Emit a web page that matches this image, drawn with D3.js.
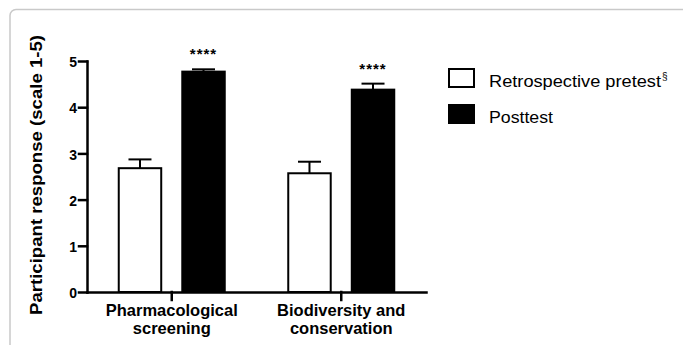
<!DOCTYPE html>
<html>
<head>
<meta charset="utf-8">
<script src="https://cdn.jsdelivr.net/npm/d3@7"></script>
<style>
  body { margin: 0; background: #fff; }
  svg { display: block; font-family: "Liberation Sans", Arial, sans-serif; }
</style>
</head>
<body>
<script>
const categories = ['Pharmacological screening', 'Biodiversity and conservation']
const categoryLines = [['Pharmacological', 'screening'], ['Biodiversity and', 'conservation']]
const series = ['Retrospective pretest', 'Posttest']
const pretest = [2.68, 2.57]
const pretestErr = [0.19, 0.25]
const posttest = [4.77, 4.38]
const posttestErr = [0.05, 0.13]
const stars = ['****', '****']
const yTicks = [0, 1, 2, 3, 4, 5]

const w = 683
const h = 345

const svg = d3.select('body')
  .append('svg')
  .attr('width', w)
  .attr('height', h)

// light frame round the figure
svg.append('rect')
  .attr('x', 10).attr('y', 9.5)
  .attr('width', 680).attr('height', 400)
  .attr('rx', 6)
  .attr('fill', 'none')
  .attr('stroke', '#c9c9c9')
  .attr('stroke-width', 1.5)

const x0 = d3.scaleBand()
  .domain(categories)
  .range([87, 426])

const x1 = d3.scaleBand()
  .domain(series)
  .range([-54, 54])
  .paddingInner(0.3)

const y = d3.scaleLinear()
  .domain([0, 5])
  .range([292, 61])

const fills = ['#fff', '#000']

const rows = categories.map((c, i) => ({
  cat: c,
  vals: [
    { s: series[0], v: pretest[i], e: pretestErr[i] },
    { s: series[1], v: posttest[i], e: posttestErr[i] }
  ],
  star: stars[i]
}))

const groups = svg.selectAll('g.grp')
  .data(rows)
  .enter()
  .append('g')
  .attr('class', 'grp')
  .attr('transform', d => `translate(${x0(d.cat) + x0.bandwidth() / 2}, 0)`)

// error bars (upper only)
groups.selectAll('g.err')
  .data(d => d.vals)
  .enter()
  .append('g')
  .attr('class', 'err')
  .each(function (d) {
    const cx = x1(d.s) + x1.bandwidth() / 2
    const g = d3.select(this)
    g.append('line')
      .attr('x1', cx).attr('x2', cx)
      .attr('y1', y(d.v)).attr('y2', y(d.v + d.e))
      .attr('stroke', '#000').attr('stroke-width', 2)
    g.append('line')
      .attr('x1', cx - 11.5).attr('x2', cx + 11.5)
      .attr('y1', y(d.v + d.e)).attr('y2', y(d.v + d.e))
      .attr('stroke', '#000').attr('stroke-width', 2)
  })

groups.selectAll('rect')
  .data(d => d.vals)
  .enter()
  .append('rect')
  .attr('x', d => x1(d.s) + 1)
  .attr('y', d => y(d.v))
  .attr('width', x1.bandwidth() - 2)
  .attr('height', d => y(0) - y(d.v))
  .attr('fill', (d, i) => fills[i])
  .attr('stroke', '#000')
  .attr('stroke-width', 2)

// significance stars above posttest bars
groups.append('text')
  .attr('x', d => x1(series[1]) + x1.bandwidth() / 2)
  .attr('y', d => y(d.vals[1].v + d.vals[1].e) - 10)
  .attr('text-anchor', 'middle')
  .attr('font-size', 15)
  .attr('font-weight', 'bold')
  .attr('letter-spacing', 1)
  .text(d => d.star)

const yAxis = d3.axisLeft(y)
  .tickValues(yTicks)
  .tickFormat(d3.format('d'))
  .tickSize(8)
  .tickSizeOuter(0)
  .tickPadding(2)

const xAxis = d3.axisBottom(x0)
  .tickSize(8)
  .tickSizeOuter(0)
  .tickFormat('')

const gy = svg.append('g')
  .attr('transform', 'translate(87, 0)')
  .call(yAxis)
gy.selectAll('text')
  .attr('font-size', 14)
  .attr('font-weight', 'bold')
  .attr('font-family', '"Liberation Sans", Arial, sans-serif')
  .attr('fill', '#000')
  .attr('dy', '0.4em')

const gx = svg.append('g')
  .attr('transform', 'translate(0, 292)')
  .call(xAxis)

svg.selectAll('.domain, .tick line')
  .attr('stroke', '#000')
  .attr('stroke-width', 2.5)
  .attr('stroke-linecap', 'square')

gx.selectAll('.tick').each(function (d, i) {
  const t = d3.select(this).append('text')
    .attr('text-anchor', 'middle')
    .attr('font-size', 16.5)
    .attr('font-weight', 'bold')
    .attr('font-family', '"Liberation Sans", Arial, sans-serif')
    .attr('fill', '#000')
  categoryLines[i].forEach((line, j) => {
    t.append('tspan').attr('x', 0).attr('y', 24 + j * 18).text(line)
  })
})

svg.append('text')
  .attr('transform', 'translate(42, 175) rotate(-90)')
  .attr('text-anchor', 'middle')
  .attr('font-size', 17)
  .attr('font-weight', 'bold')
  .attr('textLength', 280)
  .attr('lengthAdjust', 'spacingAndGlyphs')
  .text('Participant response (scale 1-5)')

// legend
const legend = svg.append('g')
const legendY = [69, 105]
const legendW = [172, 64]
series.forEach((s, i) => {
  legend.append('rect')
    .attr('x', 449).attr('y', legendY[i])
    .attr('width', 25).attr('height', 18)
    .attr('fill', fills[i])
    .attr('stroke', '#000')
    .attr('stroke-width', 2)
  legend.append('text')
    .attr('x', 489).attr('y', legendY[i] + 18)
    .attr('font-size', 16)
    .attr('textLength', legendW[i])
    .attr('lengthAdjust', 'spacingAndGlyphs')
    .text(s)
})
legend.append('text')
  .attr('x', 662).attr('y', 80)
  .attr('font-size', 10)
  .text('§')
</script>
</body>
</html>
